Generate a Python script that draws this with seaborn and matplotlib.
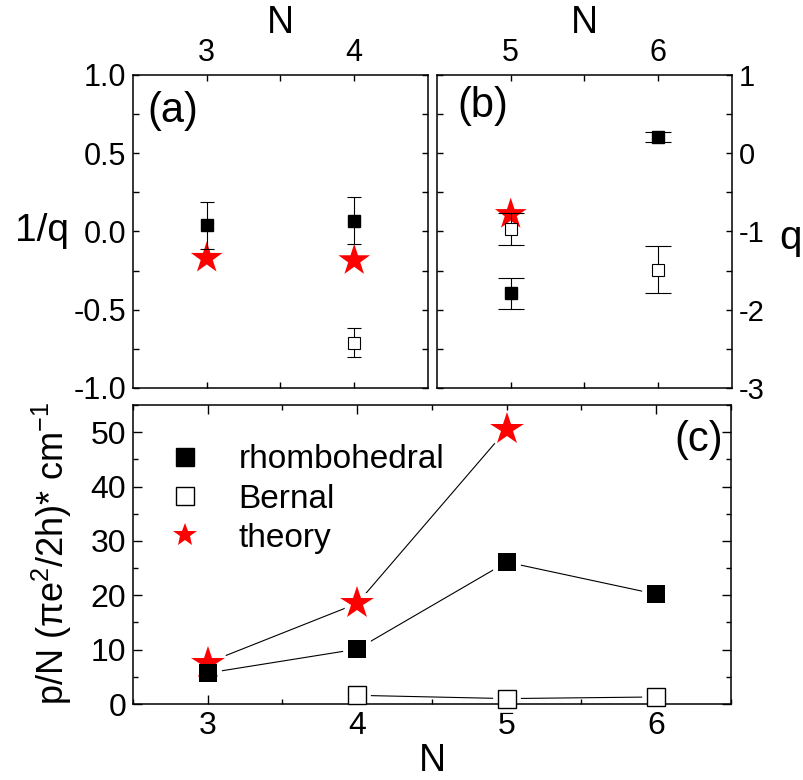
import matplotlib
matplotlib.use("Agg")
import matplotlib.pyplot as plt
import seaborn as sns
import pandas as pd
from matplotlib.lines import Line2D
from matplotlib.ticker import MultipleLocator, FixedLocator, FormatStrFormatter

# ---------------- data ----------------
N_a = [3, 4]
invq_rhombo = [0.04, 0.07]
invq_rhombo_err = [0.15, 0.15]
N_a_bernal = [4]
invq_bernal = [-0.71]
invq_bernal_err = [0.095]
invq_theory = [-0.17, -0.185]

N_b = [5, 6]
q_rhombo = [-1.79, 0.21]
q_rhombo_err = [0.20, 0.065]
q_bernal = [-0.97, -1.49]
q_bernal_err = [0.20, 0.30]
N_b_theory = [5]
q_theory = [-0.78]

N_c = [3, 4, 5, 6]
p_rhombo = [5.7, 10.1, 26.1, 20.2]
N_c_bernal = [4, 5, 6]
p_bernal = [1.6, 1.0, 1.3]
N_c_theory = [3, 4, 5]
p_theory = [7.6, 18.5, 50.5]

# ---------------- style ----------------
sns.set_theme(style="ticks")
plt.rcParams['font.family'] = ['Liberation Sans', 'DejaVu Sans']
plt.rcParams['mathtext.fontset'] = 'custom'
plt.rcParams['mathtext.rm'] = 'Liberation Sans'
plt.rcParams['mathtext.it'] = 'Liberation Sans:italic'
plt.rcParams['axes.unicode_minus'] = False
plt.rcParams['text.color'] = 'black'
plt.rcParams['axes.labelcolor'] = 'black'
plt.rcParams['xtick.color'] = 'black'
plt.rcParams['ytick.color'] = 'black'
plt.rcParams['axes.linewidth'] = 1.1
plt.rcParams['axes.edgecolor'] = 'black'

RED = '#ff0000'

fig = plt.figure(figsize=(8.04, 7.8), dpi=100)
ax_a = fig.add_axes([0.1654, 0.5026, 0.3669, 0.4013])
ax_b = fig.add_axes([0.5435, 0.5026, 0.3669, 0.4013])
ax_c = fig.add_axes([0.1654, 0.0974, 0.7438, 0.3834])

for ax in (ax_a, ax_b, ax_c):
    ax.set_facecolor('white')
    for s in ax.spines.values():
        s.set_color('black')
        s.set_linewidth(1.1)

# ---------------- panel (a) ----------------
df_a_th = pd.DataFrame({'N': N_a, 'v': invq_theory})
sns.scatterplot(data=df_a_th, x='N', y='v', ax=ax_a, marker='*', s=24**2,
                color=RED, edgecolor='none', zorder=2, legend=False)
ax_a.errorbar(N_a, invq_rhombo, yerr=invq_rhombo_err, fmt='s', ms=8.5,
              mfc='black', mec='black', ecolor='black', elinewidth=0.8,
              capsize=4.7, capthick=0.8, zorder=3)
ax_a.errorbar(N_a_bernal, invq_bernal, yerr=invq_bernal_err, fmt='s', ms=8.5,
              mfc='white', mec='black', mew=0.8, ecolor='black', elinewidth=0.8,
              capsize=4.7, capthick=0.8, zorder=3)
ax_a.set_xlim(2.5, 4.5)
ax_a.set_ylim(-1.0, 1.0)
ax_a.xaxis.set_major_locator(FixedLocator([3, 4]))
ax_a.xaxis.set_minor_locator(FixedLocator([3.5]))
ax_a.yaxis.set_major_locator(MultipleLocator(0.5))
ax_a.yaxis.set_minor_locator(MultipleLocator(0.25))
ax_a.yaxis.set_major_formatter(FormatStrFormatter('%.1f'))
ax_a.tick_params(axis='both', which='both', direction='in', length=4.5, width=1.0,
                 top=True, bottom=True, left=True, right=True,
                 labeltop=True, labelbottom=False, labelleft=True, labelright=False,
                 pad=5, colors='black')
ax_a.tick_params(axis='y', labelsize=22)
ax_a.tick_params(axis='x', labelsize=22)
ax_a.set_xlabel('N', fontsize=27)
ax_a.xaxis.set_label_position('top')
ax_a.xaxis.label.set_va('center')
ax_a.xaxis.set_label_coords(0.5, 1.165)
ax_a.set_ylabel('1/q', fontsize=28, rotation=0, ha='center', va='center')
ax_a.yaxis.set_label_coords(-0.31, 0.5)
ax_a.text(0.05, 0.885, '(a)', transform=ax_a.transAxes, fontsize=30,
          ha='left', va='center')

# ---------------- panel (b) ----------------
df_b_th = pd.DataFrame({'N': N_b_theory, 'v': q_theory})
sns.scatterplot(data=df_b_th, x='N', y='v', ax=ax_b, marker='*', s=24**2,
                color=RED, edgecolor='none', zorder=2, legend=False)
ax_b.errorbar(N_b, q_rhombo, yerr=q_rhombo_err, fmt='s', ms=9,
              mfc='black', mec='black', ecolor='black', elinewidth=0.8,
              capsize=9.4, capthick=0.8, zorder=3)
ax_b.errorbar(N_b, q_bernal, yerr=q_bernal_err, fmt='s', ms=9,
              mfc='white', mec='black', mew=0.8, ecolor='black', elinewidth=0.8,
              capsize=9.4, capthick=0.8, zorder=3)
ax_b.set_xlim(4.5, 6.5)
ax_b.set_ylim(-3, 1)
ax_b.xaxis.set_major_locator(FixedLocator([5, 6]))
ax_b.xaxis.set_minor_locator(FixedLocator([5.5]))
ax_b.yaxis.set_major_locator(MultipleLocator(1))
ax_b.yaxis.set_minor_locator(MultipleLocator(0.5))
ax_b.tick_params(axis='both', which='both', direction='in', length=4.5, width=1.0,
                 top=True, bottom=True, left=True, right=True,
                 labeltop=True, labelbottom=False, labelleft=False, labelright=True,
                 pad=5, colors='black')
ax_b.tick_params(axis='y', labelsize=21)
ax_b.tick_params(axis='x', labelsize=22)
ax_b.set_xlabel('N', fontsize=27)
ax_b.xaxis.set_label_position('top')
ax_b.xaxis.label.set_va('center')
ax_b.xaxis.set_label_coords(0.5, 1.165)
ax_b.yaxis.set_label_position('right')
ax_b.set_ylabel('q', fontsize=29, rotation=0, ha='center', va='center')
ax_b.yaxis.set_label_coords(1.2, 0.48)
ax_b.text(0.068, 0.90, '(b)', transform=ax_b.transAxes, fontsize=30,
          ha='left', va='center')

# ---------------- panel (c) ----------------
series = [
    (N_c, p_rhombo, 's', 12.5, 'black', 'black', 'rhombohedral'),
    (N_c_bernal, p_bernal, 's', 12.5, 'white', 'black', 'Bernal'),
    (N_c_theory, p_theory, '*', 25, RED, RED, 'theory'),
]
for xs, ys, m, ms, fc, ec, name in series:
    df = pd.DataFrame({'N': xs, 'v': ys})
    sns.lineplot(data=df, x='N', y='v', ax=ax_c, color='black', lw=0.8,
                 estimator=None, sort=False, zorder=1, legend=False)
# white halos to create gaps between lines and markers
for xs, ys, m, ms, fc, ec, name in series:
    ax_c.plot(xs, ys, ls='none', marker=m, ms=ms, mfc='white', mec='white',
              mew=7, zorder=2, clip_on=False)
for xs, ys, m, ms, fc, ec, name in [series[2], series[0], series[1]]:
    ax_c.plot(xs, ys, ls='none', marker=m, ms=ms, mfc=fc, mec=ec,
              mew=(1.0 if fc == 'white' else 0), zorder=3, clip_on=False)

ax_c.set_xlim(2.5, 6.5)
ax_c.set_ylim(0, 55)
ax_c.xaxis.set_major_locator(MultipleLocator(1))
ax_c.xaxis.set_minor_locator(MultipleLocator(0.5))
ax_c.yaxis.set_major_locator(MultipleLocator(10))
ax_c.yaxis.set_minor_locator(MultipleLocator(5))
ax_c.tick_params(axis='both', which='major', direction='in', length=6.5, width=1.0,
                 top=True, bottom=True, left=True, right=True,
                 labelsize=23, pad=5, colors='black')
ax_c.tick_params(axis='both', which='minor', direction='in', length=3.5, width=1.0,
                 top=True, bottom=True, left=True, right=True, colors='black')
ax_c.set_xlabel('N', fontsize=27)
ax_c.xaxis.label.set_va('center')
ax_c.xaxis.set_label_coords(0.5, -0.19)
ax_c.set_ylabel('p/N (πe$^2$/2h)* cm$^{-1}$', fontsize=26, va='center')
ax_c.yaxis.set_label_coords(-0.135, 0.505)
ax_c.text(0.987, 0.883, '(c)', transform=ax_c.transAxes, fontsize=30,
          ha='right', va='center')

handles = [
    Line2D([], [], ls='none', marker='s', ms=12.5, mfc='black', mec='black'),
    Line2D([], [], ls='none', marker='s', ms=12.5, mfc='white', mec='black', mew=1.0),
    Line2D([], [], ls='none', marker='*', ms=18, mfc=RED, mec=RED, mew=0),
]
leg = ax_c.legend(handles, ['rhombohedral', 'Bernal', 'theory'], loc='upper left',
                  bbox_to_anchor=(0.02, 0.935), frameon=False, fontsize=24,
                  handlelength=1.2, handletextpad=1.0, labelspacing=0.25,
                  borderaxespad=0.2)
for t in leg.get_texts():
    t.set_color('black')

fig.savefig('out.png', dpi=100, facecolor='white')
